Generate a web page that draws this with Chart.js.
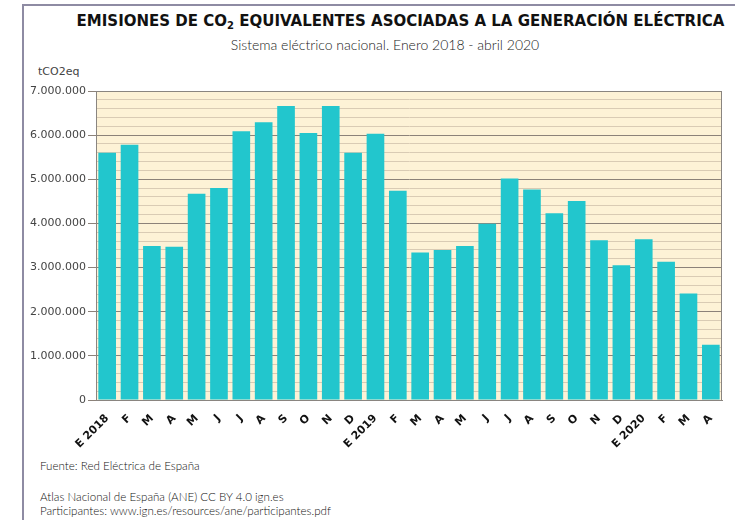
<!DOCTYPE html>
<html>
<head>
<meta charset="utf-8">
<script src="https://cdn.jsdelivr.net/npm/chart.js@4"></script>
<style>
  body { margin: 0; background: #fff; }
  #wrap { position: relative; width: 735px; height: 520px; overflow: hidden; }
  #frameTop { position: absolute; left: 22px; top: 4px; width: 713px; height: 2px; background: #8e8ba3; }
  #frameLeft { position: absolute; left: 22px; top: 4px; width: 2px; height: 516px; background: #8e8ba3; }
  .txt { position: absolute; white-space: nowrap; }
  #title { left: 0; width: 801px; text-align: center; top: 12px; font: bold 15px "DejaVu Sans", sans-serif; color: #111; }
  #title sub { font-size: 10px; vertical-align: -3px; line-height: 0; }
  #subtitle { left: 0; width: 770px; text-align: center; top: 36px; font: 300 14px Lato, sans-serif; color: #222; }
  #unit { left: 38px; top: 65px; font: 11px "DejaVu Sans", sans-serif; color: #444; }
  .foot { left: 40px; font: 300 11.6px Lato, sans-serif; color: #111; }
  canvas { position: absolute; left: 0; top: 0; }
</style>
</head>
<body>
<div id="wrap">
  <div id="frameTop"></div>
  <div id="frameLeft"></div>
  <div id="title" class="txt">EMISIONES DE CO<sub>2</sub> EQUIVALENTES ASOCIADAS A LA GENERACIÓN ELÉCTRICA</div>
  <div id="subtitle" class="txt">Sistema eléctrico nacional. Enero 2018 - abril 2020</div>
  <div id="unit" class="txt">tCO2eq</div>
  <div class="txt foot" style="top:459px">Fuente: Red Eléctrica de España</div>
  <div class="txt foot" style="top:490px">Atlas Nacional de España (ANE) CC BY 4.0 ign.es</div>
  <div class="txt foot" style="top:504px">Participantes: www.ign.es/resources/ane/participantes.pdf</div>
  <canvas id="emisionesChart" width="735" height="520"></canvas>
</div>
<script>
// months, Jan 2018 - Apr 2020
const monthLabels = [
  "E 2018", "F", "M", "A", "M", "J", "J", "A", "S", "O", "N", "D",
  "E 2019", "F", "M", "A", "M", "J", "J", "A", "S", "O", "N", "D",
  "E 2020", "F", "M", "A",
];

// tCO2eq per month
const emissions = [
  5600000, 5780000, 3490000, 3470000, 4670000, 4800000, 6090000, 6290000, 6660000, 6050000, 6660000, 5600000,
  6030000, 4740000, 3340000, 3400000, 3490000, 3990000, 5020000, 4770000, 4230000, 4510000, 3620000, 3050000,
  3640000, 3130000, 2410000, 1250000,
];

const yMax = 7000000;
const yMajorStep = 1000000;
const yMinorStep = 200000;

function formatEs(value) {
  return String(value).replace(/\B(?=(\d{3})+(?!\d))/g, ".");
}

const isMajor = (v) => v % yMajorStep === 0;

const plotBackground = {
  id: "plotBackground",
  beforeDraw(chart) {
    const { ctx, chartArea: a } = chart;
    ctx.save();
    ctx.fillStyle = "#fdf2d6";
    ctx.fillRect(a.left, a.top, a.right - a.left, a.bottom - a.top);
    ctx.restore();
  },
  afterDatasetsDraw(chart) {
    const { ctx, chartArea: a } = chart;
    ctx.save();
    ctx.strokeStyle = "#8a8580";
    ctx.lineWidth = 1;
    ctx.strokeRect(a.left + 0.5, a.top + 0.5, a.right - a.left - 1, a.bottom - a.top);
    ctx.restore();
  },
};

const ctx = document.getElementById("emisionesChart").getContext("2d");

new Chart(ctx, {
  type: "bar",
  data: {
    labels: monthLabels,
    datasets: [
      {
        label: "tCO2eq",
        data: emissions,
        backgroundColor: "#22c6cd",
        borderWidth: 0,
        barPercentage: 0.79,
        categoryPercentage: 1,
      },
    ],
  },
  options: {
    responsive: false,
    animation: false,
    layout: { padding: { top: 91, left: 0, right: 13, bottom: 70 } },
    plugins: {
      legend: { display: false },
      tooltip: { enabled: false },
    },
    scales: {
      x: {
        grid: { display: false },
        border: { display: true, color: "#8a8580" },
        ticks: {
          color: "#111",
          font: { family: "DejaVu Sans", size: 11, weight: "bold" },
          minRotation: 45,
          maxRotation: 45,
          autoSkip: false,
          padding: 4,
        },
        afterFit(scale) {
          scale.height = 50;
        },
      },
      y: {
        min: 0,
        max: yMax,
        border: { display: true, color: "#8a8580" },
        grid: {
          color: (c) => (isMajor(c.tick.value) ? "#8c8279" : "#d9cbb4"),
          tickColor: (c) => (isMajor(c.tick.value) ? "#8c8279" : "rgba(0,0,0,0)"),
          tickLength: 8,
        },
        ticks: {
          stepSize: yMinorStep,
          autoSkip: false,
          padding: 2,
          color: "#444",
          font: { family: "DejaVu Sans", size: 11 },
          callback: (v) => (isMajor(v) ? formatEs(v) : ""),
        },
        afterFit(scale) {
          scale.width = 96;
        },
      },
    },
  },
  plugins: [plotBackground],
});
</script>
</body>
</html>
